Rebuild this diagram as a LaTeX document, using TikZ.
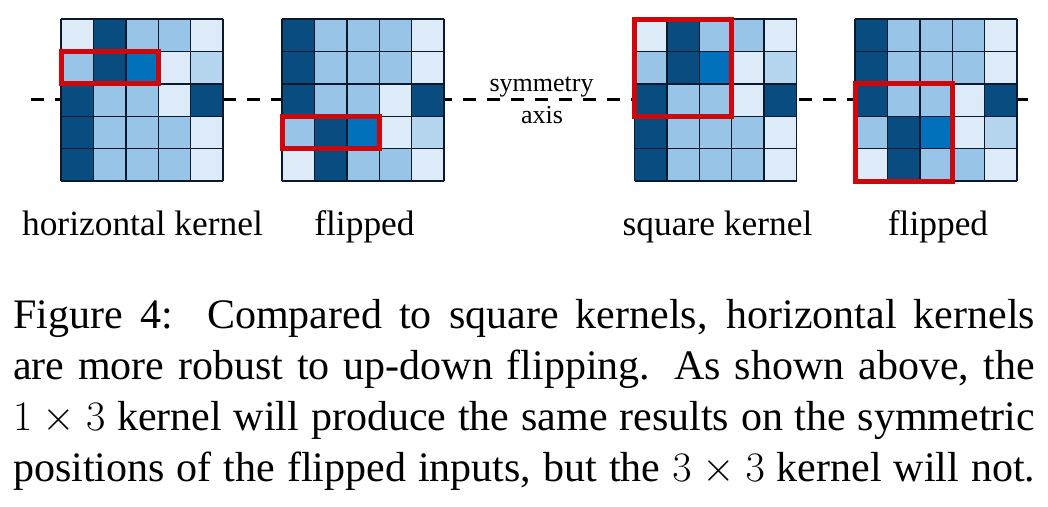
\documentclass[tikz,border=0pt]{standalone}
\usepackage{fix-cm}
\usepackage{fontspec}
\setmainfont{Liberation Serif}
\definecolor{cL}{RGB}{221,234,247}
\definecolor{cM}{RGB}{152,196,232}
\definecolor{cS}{RGB}{182,214,240}
\definecolor{cD}{RGB}{8,76,128}
\definecolor{cB}{RGB}{2,113,188}
\definecolor{kred}{RGB}{204,8,12}
\definecolor{gridline}{RGB}{10,25,45}
\tikzset{
  cellbox/.style={draw=gridline, line width=1.4pt},
  kernelbox/.style={draw=kred, line width=5pt},
  axisline/.style={black, line width=3.6pt, dash pattern=on 13.3pt off 10.7pt},
  lbl/.style={inner sep=0pt, anchor=base, font=\fontsize{35.4}{42}\selectfont},
  axislbl/.style={inner sep=0pt, anchor=base, font=\fontsize{26}{30}\selectfont},
}
\newcommand{\drawgrid}[3]{% x0, y0, rows list
  \foreach \row [count=\r from 0] in {#3} {
    \foreach \c [count=\k from 0] in \row {
      \fill[\c] ({#1+\k*32.4},{#2+\r*32.4}) rectangle ++(32.4,32.4);
    }
  }
  \foreach \i in {0,...,5} {
    \draw[cellbox] ({#1+\i*32.4},#2) -- ({#1+\i*32.4},{#2+162});
    \draw[cellbox] (#1,{#2+\i*32.4}) -- ({#1+162},{#2+\i*32.4});
  }
}
\begin{document}
\begin{tikzpicture}[x=1pt,y=-1pt]
\useasboundingbox[fill=white] (0,0) rectangle (1048,506);
% symmetry axis
\coordinate (axL) at (30.7,99.3);
\coordinate (axR) at (1032,99.3);
\draw[axisline] (axL) -- (axR);
% grids
\drawgrid{61}{19}{{cL,cD,cM,cM,cL},{cM,cD,cB,cL,cS},{cD,cM,cM,cL,cD},{cD,cM,cM,cM,cL},{cD,cM,cM,cM,cL}}
\drawgrid{282}{19}{{cD,cM,cM,cM,cL},{cD,cM,cM,cM,cL},{cD,cM,cM,cL,cD},{cM,cD,cB,cL,cS},{cL,cD,cM,cM,cL}}
\drawgrid{634.5}{19}{{cL,cD,cM,cM,cL},{cM,cD,cB,cL,cS},{cD,cM,cM,cL,cD},{cD,cM,cM,cM,cL},{cD,cM,cM,cM,cL}}
\drawgrid{855}{19}{{cD,cM,cM,cM,cL},{cD,cM,cM,cM,cL},{cD,cM,cM,cL,cD},{cM,cD,cB,cL,cS},{cL,cD,cM,cM,cL}}
% kernels
\draw[kernelbox] (61,51.4) rectangle (158.2,83.8);
\draw[kernelbox] (282,116.2) rectangle (379.2,148.6);
\draw[kernelbox] (634.5,19) rectangle (731.7,116.2);
\draw[kernelbox] (855,83.8) rectangle (952.2,181);
% labels
\node[axislbl] (sym) at (541.5,91.5) {symmetry};
\node[axislbl] (axis) at (542,123.3) {axis};
\node[lbl] (l1) at (142.5,235.7) {horizontal kernel};
\node[lbl] (l2) at (364.5,235.7) {flipped};
\node[lbl] (l3) at (717.5,235.7) {square kernel};
\node[lbl] (l4) at (938,235.7) {flipped};
% caption
\node[inner sep=0pt, anchor=base west] (cap) at (13,328) {\parbox[t]{1022pt}{\fontsize{42}{51}\selectfont\parfillskip=0pt\parindent=0pt
Figure 4:\ \ Compared to square kernels, horizontal kernels\linebreak
are more robust to up-down flipping. As shown above, the\linebreak
$1\times3$ kernel will produce the same results on the symmetric\linebreak
positions of the flipped inputs, but the $3\times3$ kernel will not.}};
\end{tikzpicture}
\end{document}
